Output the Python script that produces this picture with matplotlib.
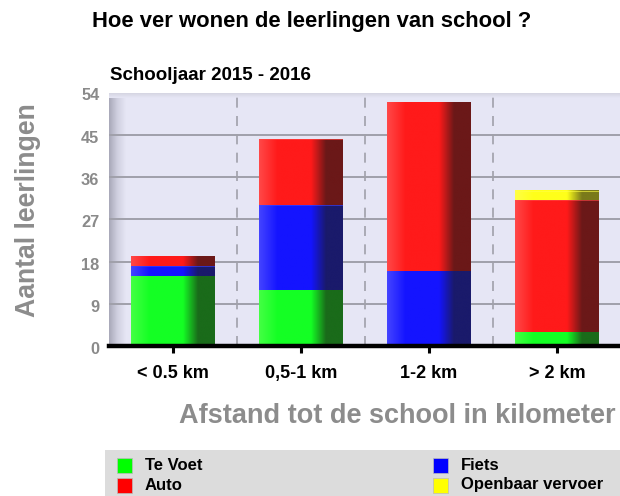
import numpy as np
import matplotlib
matplotlib.use("Agg")
import matplotlib.pyplot as plt
import matplotlib.transforms as mtrans
from matplotlib.colors import LinearSegmentedColormap
from matplotlib.patches import Rectangle

categories = ['< 0.5 km', '0,5-1 km', '1-2 km', '> 2 km']
series_names = ['Te Voet', 'Fiets', 'Auto', 'Openbaar vervoer']
te_voet = [15, 12, 0, 3]
fiets = [2, 18, 16, 0]
auto = [2, 14, 36, 28]
openbaar = [0, 0, 0, 2]
yticks = [0, 9, 18, 27, 36, 45, 54]

series_values = [te_voet, fiets, auto, openbaar]
base_colors = ['#00ff00', '#0000ff', '#ff0000', '#ffff00']
grad_stops = [
    ['#44ff44', '#14ff24', '#14ff24', '#1a6b1a', '#1a6b1a'],
    ['#4444ff', '#1414ff', '#1414ff', '#1a1a6b', '#1a1a6b'],
    ['#ff4848', '#ff1a1a', '#ff1a1a', '#6b1818', '#6b1818'],
    ['#ffff44', '#ffff1a', '#ffff1a', '#7a7a1a', '#7a7a1a'],
]
pos = [0.0, 0.22, 0.62, 0.80, 1.0]

plt.rcParams['font.family'] = ['Liberation Sans', 'DejaVu Sans']
plt.rcParams['font.weight'] = 'bold'

W, H = 620, 496
fig = plt.figure(figsize=(W / 100, H / 100), dpi=100)
ax = fig.add_axes([109 / W, 150 / H, 512 / W, 253.5 / H])

x = np.arange(len(categories))

# background with left wall shading
ax.set_facecolor('#e6e6f5')
grad = np.linspace(0, 1, 256).reshape(1, -1)
wall = LinearSegmentedColormap.from_list('wall', [(0, '#a8a8b8'), (0.5, '#d0d0e0'), (1, '#e6e6f5')])
ax.imshow(grad, extent=(0, 0.032, 0, 1), transform=ax.transAxes, cmap=wall,
          aspect='auto', zorder=0.5, interpolation='bilinear')
top = LinearSegmentedColormap.from_list('top', [(0, '#e6e6f5'), (1, '#d2d2de')])
ax.imshow(np.linspace(0, 1, 64).reshape(-1, 1), extent=(0, 1, 0.98, 1), transform=ax.transAxes,
          cmap=top, aspect='auto', zorder=0.5, interpolation='bilinear', origin='lower')

for yv in yticks[1:-1]:
    ax.axhline(yv, color='#a0a0aa', lw=1.4, zorder=1)
for xv in x[:-1] + 0.5:
    ax.axvline(xv, color='#a0a0aa', lw=1.2, ls=(0, (6, 5)), zorder=1)

bottom = np.zeros(len(categories))
width = 0.655
for vals, stops in zip(series_values, grad_stops):
    cmap = LinearSegmentedColormap.from_list('g', list(zip(pos, stops)))
    bars = ax.bar(x, vals, width, bottom=bottom, color='none', edgecolor='none', zorder=2)
    for b in bars:
        if b.get_height() <= 0:
            continue
        x0, y0 = b.get_x(), b.get_y()
        ax.imshow(grad, extent=(x0, x0 + b.get_width(), y0, y0 + b.get_height()),
                  cmap=cmap, aspect='auto', zorder=2, interpolation='bilinear')
        ax.add_patch(Rectangle((x0, y0 + b.get_height() - 0.12), b.get_width(), 0.12,
                               color=stops[0], lw=0, zorder=2.1, alpha=0.6))
    bottom += np.array(vals)
ax.set_xlim(-0.5, len(categories) - 0.5)
ax.set_ylim(0, 54)

for s in ['top', 'right', 'left']:
    ax.spines[s].set_visible(False)
ax.spines['bottom'].set_linewidth(3.2)
ax.spines['bottom'].set_color('black')
ax.spines['bottom'].set_zorder(5)

ax.set_xticks(x)
ax.set_xticklabels(categories, fontsize=13, fontweight='bold', color='black')
ax.tick_params(axis='x', length=5, width=2.2, color='black', pad=9)
ax.set_yticks(yticks)
ax.set_yticklabels([str(v) for v in yticks], fontsize=11.8, fontweight='bold', color='#8a8a8a')
ax.tick_params(axis='y', length=0, pad=7)
offset = mtrans.ScaledTranslation(0, -2 / 100, fig.dpi_scale_trans)
for lbl in ax.get_yticklabels():
    lbl.set_transform(lbl.get_transform() + offset)

fig.text(311.5 / W, 1 - 21 / H, 'Hoe ver wonen de leerlingen van school ?', fontsize=15.8,
         fontweight='bold', ha='center', va='center', color='black')
fig.text(110 / W, 1 - 75 / H, 'Schooljaar 2015 - 2016', fontsize=13.5,
         fontweight='bold', ha='left', va='center', color='black')
fig.text(28 / W, 1 - 210 / H, 'Aantal leerlingen', fontsize=19.2, fontweight='bold',
         rotation=90, ha='center', va='center', color='#8c8c8c')
fig.text(397 / W, 1 - 416 / H, 'Afstand tot de school in kilometer', fontsize=19.5,
         fontweight='bold', ha='center', va='center', color='#8c8c8c')

# legend box
fig.patches.append(Rectangle((105 / W, 0), 1 - 105 / W, 1 - 450 / H, transform=fig.transFigure,
                             facecolor='#dcdcdc', edgecolor='none', zorder=0))
leg_pos = [(117, 465), (433, 465), (117, 485), (433, 485)]
for name, col, (lx, ly) in zip(series_names, base_colors, leg_pos):
    fig.patches.append(Rectangle((lx / W, 1 - (ly + 7.5) / H), 15 / W, 15 / H,
                                 transform=fig.transFigure, facecolor=col,
                                 edgecolor='#bbbbbb', lw=0.5, zorder=1))
    fig.text((lx + 28) / W, 1 - ly / H, name, fontsize=12, fontweight='bold',
             ha='left', va='center', color='black')

fig.savefig('out.png', dpi=100, facecolor='white')
